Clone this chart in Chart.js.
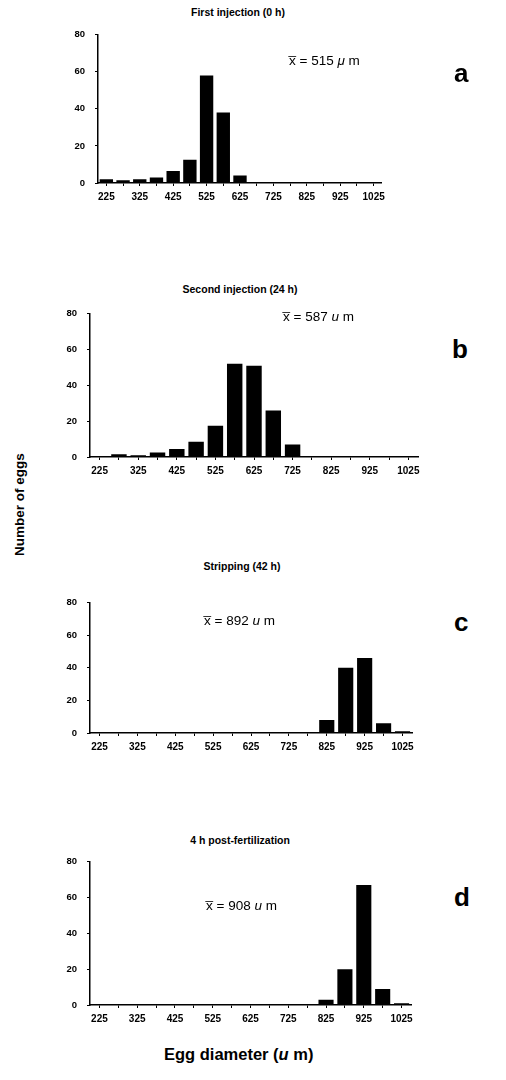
<!DOCTYPE html>
<html>
<head>
<meta charset="utf-8">
<script src="https://cdn.jsdelivr.net/npm/chart.js@4/dist/chart.umd.min.js"></script>
<style>
  html, body { margin:0; padding:0; background:#fff; }
  body { width:506px; height:1080px; position:relative; overflow:hidden; font-family:"Liberation Sans", Arial, sans-serif; color:#000; }
  canvas { position:absolute; }
  .title { position:absolute; font-weight:bold; font-size:10.5px; text-align:center; white-space:nowrap; }
  .mean { position:absolute; font-size:13.5px; white-space:nowrap; }
  .mean i { font-style:italic; }
  .letter { position:absolute; font-weight:bold; font-size:26px; }
  .ytitle { position:absolute; font-weight:bold; font-size:13.5px; transform:rotate(-90deg); transform-origin:center; white-space:nowrap; }
  .xtitle { position:absolute; font-weight:bold; font-size:16.5px; white-space:nowrap; }
</style>
</head>
<body>
<canvas id="ca"></canvas>
<canvas id="cb"></canvas>
<canvas id="cc"></canvas>
<canvas id="cd"></canvas>

<div class="title" style="left:138px;width:200px;top:6px;">First injection (0 h)</div>
<div class="title" style="left:140px;width:200px;top:283px;">Second injection (24 h)</div>
<div class="title" style="left:142px;width:200px;top:560px;">Stripping (42 h)</div>
<div class="title" style="left:140px;width:200px;top:834px;">4 h post-fertilization</div>

<div class="mean" style="left:289px;top:53px;">x&#773; = 515 <i>&#956;</i> m</div>
<div class="mean" style="left:283px;top:309px;">x&#773; = 587 <i>u</i> m</div>
<div class="mean" style="left:204px;top:613px;">x&#773; = 892 <i>u</i> m</div>
<div class="mean" style="left:206px;top:898px;">x&#773; = 908 <i>u</i> m</div>

<div class="letter" style="left:454px;top:58px;">a</div>
<div class="letter" style="left:452px;top:334px;">b</div>
<div class="letter" style="left:454px;top:607px;">c</div>
<div class="letter" style="left:454px;top:882px;">d</div>

<div class="ytitle" style="left:-33px;top:497px;width:104px;text-align:center;">Number of eggs</div>
<div class="xtitle" style="left:164px;top:1045px;">Egg diameter (<i>u</i> m)</div>

<script>
// Egg diameter bins (µm), 50-µm classes
const diameters = ['225','275','325','375','425','475','525','575','625','675','725','775','825','875','925','975','1025'];
// Number of eggs per class
const firstInjection  = [2, 1.5, 2, 3, 6.5, 12.5, 58, 38, 4, 0, 0, 0, 0, 0, 0, 0, 0];
const secondInjection = [0.5, 1.5, 1, 2.5, 4.5, 8.5, 17.5, 52, 51, 26, 7, 0, 0, 0, 0, 0, 0];
const stripping       = [0, 0, 0, 0, 0, 0, 0, 0, 0, 0, 0, 0, 8, 40, 46, 6, 1];
const postFert        = [0, 0, 0, 0, 0, 0, 0, 0, 0, 0, 0, 0, 3, 20, 67, 9, 1];
const yTicks = [0, 20, 40, 60, 80];

const YW = 40, XH = 26, PT = 8, PR = 8;

function makePanel(id, values, area) {
  const c = document.getElementById(id);
  const w = area.right - area.left + YW + PR;
  const h = area.bottom - area.top + PT + XH;
  c.style.left = (area.left - YW) + 'px';
  c.style.top = (area.top - PT) + 'px';
  c.width = w; c.height = h;
  c.style.width = w + 'px'; c.style.height = h + 'px';
  new Chart(c, {
    type: 'bar',
    data: {
      labels: diameters,
      datasets: [{ data: values, backgroundColor: '#000', borderWidth: 0,
                   barPercentage: 0.8, categoryPercentage: 1.0 }]
    },
    options: {
      responsive: false, animation: false, maintainAspectRatio: false,
      layout: { padding: { top: PT, right: PR, left: 0, bottom: 0 } },
      plugins: { legend: { display: false }, tooltip: { enabled: false } },
      scales: {
        x: {
          offset: true,
          grid: { display: true, drawOnChartArea: false, drawTicks: true, tickLength: 3, color: '#000', offset: false },
          border: { display: true, color: '#000', width: 1.5 },
          ticks: {
            autoSkip: false, maxRotation: 0, minRotation: 0, padding: 5,
            color: '#000', font: { family: 'Liberation Sans', weight: 'bold', size: 10 },
            callback: function(v, i) { return i % 2 === 0 ? diameters[i] : ''; }
          },
          afterFit: function(s) { s.height = XH; }
        },
        y: {
          min: 0, max: 80,
          afterBuildTicks: function(s) { s.ticks = yTicks.map(v => ({ value: v })); },
          grid: { display: true, drawOnChartArea: false, drawTicks: true, tickLength: 3, color: '#000' },
          border: { display: true, color: '#000', width: 1.5 },
          ticks: { padding: 10, color: '#000', font: { family: 'Liberation Sans', weight: 'bold', size: 9.5 } },
          afterFit: function(s) { s.width = YW; }
        }
      }
    }
  });
}

makePanel('ca', firstInjection,  { left: 98, right: 382, top: 27,  bottom: 183 });
makePanel('cb', secondInjection, { left: 90, right: 418, top: 306, bottom: 457 });
makePanel('cc', stripping,       { left: 90, right: 412, top: 595, bottom: 733 });
makePanel('cd', postFert,        { left: 90, right: 411, top: 854, bottom: 1005 });
</script>
</body>
</html>
